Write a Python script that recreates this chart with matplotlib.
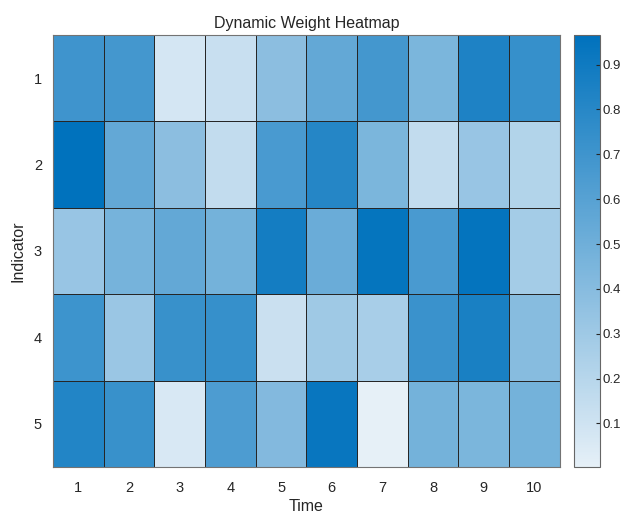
import numpy as np
import matplotlib
matplotlib.use("Agg")
import matplotlib.pyplot as plt
from matplotlib.colors import LinearSegmentedColormap

plt.rcParams['font.family'] = ['Liberation Sans', 'DejaVu Sans']

# weights (rows = indicator 1..5, cols = time 1..10)
time_labels = ['1', '2', '3', '4', '5', '6', '7', '8', '9', '10']
indicator_labels = ['1', '2', '3', '4', '5']
row1 = [0.70, 0.68, 0.08, 0.13, 0.38, 0.55, 0.68, 0.45, 0.84, 0.74]
row2 = [0.966, 0.55, 0.38, 0.15, 0.66, 0.81, 0.45, 0.15, 0.33, 0.22]
row3 = [0.33, 0.47, 0.55, 0.48, 0.88, 0.52, 0.94, 0.66, 0.95, 0.28]
row4 = [0.71, 0.32, 0.73, 0.74, 0.12, 0.30, 0.26, 0.72, 0.86, 0.40]
row5 = [0.82, 0.73, 0.06, 0.64, 0.42, 0.93, 0.003, 0.48, 0.45, 0.48]

weights = np.array([row1, row2, row3, row4, row5])

# matlab "sky"-like map
sky = LinearSegmentedColormap.from_list('sky', [(0.90, 0.94, 0.97), (0.0, 0.447, 0.741)])
txt = (0.15, 0.15, 0.15)

fig = plt.figure(figsize=(6.22, 5.19), dpi=100)
ax = fig.add_axes([0.0852, 0.1002, 0.8148, 0.8324])
cax = fig.add_axes([0.9228, 0.1002, 0.0418, 0.8324])

mesh = ax.pcolormesh(weights, cmap=sky, vmin=weights.min(), vmax=weights.max(),
                     edgecolors=txt, linewidth=0.5)
ax.set_xlim(0, 10)
ax.set_ylim(5, 0)
ax.set_xticks(np.arange(10) + 0.5)
ax.set_xticklabels(time_labels)
ax.set_yticks(np.arange(5) + 0.5)
ax.set_yticklabels(indicator_labels)
ax.tick_params(axis='x', length=0, labelsize=10.5, colors=txt, pad=10)
ax.tick_params(axis='y', length=0, labelsize=10.5, colors=txt, pad=8)
for s in ax.spines.values():
    s.set_color((0.45, 0.45, 0.45))
    s.set_linewidth(0.8)
ax.set_xlabel('Time', fontsize=11.5, color=txt, labelpad=3)
ax.set_ylabel('Indicator', fontsize=11.5, color=txt, labelpad=6)
ax.set_title('Dynamic Weight Heatmap', fontsize=11.5, color=txt, pad=5)

cb = fig.colorbar(mesh, cax=cax)
cb.set_ticks([0.1, 0.2, 0.3, 0.4, 0.5, 0.6, 0.7, 0.8, 0.9])
cb.ax.tick_params(direction='in', length=3, labelsize=9.5, colors=txt, pad=2)
cb.outline.set_edgecolor((0.4, 0.4, 0.4))
cb.outline.set_linewidth(0.8)

fig.savefig('out.png', dpi=100)
